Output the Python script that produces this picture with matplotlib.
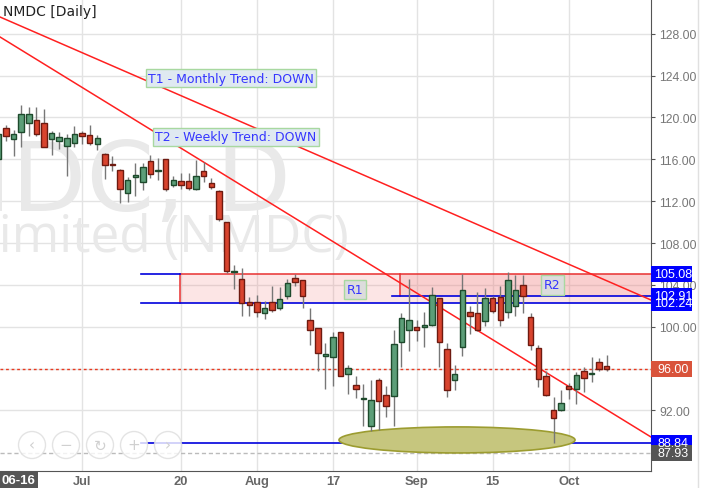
import matplotlib
matplotlib.use("Agg")
import matplotlib.pyplot as plt
from matplotlib.patches import Rectangle, Ellipse
from matplotlib.lines import Line2D
import numpy as np

# ---------------- data ----------------
opens = [116.0, 119.0, 117.9, 118.6, 119.5, 119.8, 119.5, 117.9, 117.8, 117.3,
         117.6, 118.5, 118.3, 117.5, 116.5, 115.55, 115.0, 112.8, 114.35, 113.8,
         115.8, 114.9, 116.0, 113.5, 113.9, 113.9, 113.2, 114.85, 113.7, 113.0,
         110.0, 105.2, 104.6, 102.4, 102.4, 101.3, 102.4, 101.75, 102.95, 104.7,
         104.45, 100.6, 99.85, 97.2, 97.1, 99.45, 95.45, 94.45, 93.05, 90.5,
         94.9, 93.5, 93.35, 98.5, 99.65, 99.95, 99.95, 100.2, 102.7, 97.85,
         94.9, 98.05, 101.4, 101.3, 100.5, 102.7, 102.8, 101.4, 101.95, 104.0,
         100.9, 97.95, 95.3, 92.0, 92.0, 94.3, 94.0, 95.75, 95.45, 96.6, 96.25]
highs = [118.8, 119.3, 118.8, 121.2, 121.0, 121.0, 120.8, 118.7, 118.6, 118.4,
         119.2, 118.7, 119.3, 118.3, 116.6, 116.3, 115.1, 114.3, 115.65, 115.65,
         116.4, 116.1, 116.05, 114.4, 114.7, 114.7, 115.9, 115.7, 114.2, 113.1,
         110.05, 105.9, 105.6, 102.8, 103.0, 102.45, 103.9, 103.8, 104.55, 105.05,
         104.5, 101.8, 99.9, 98.45, 99.45, 99.5, 96.35, 95.3, 94.5, 94.9,
         95.05, 94.3, 99.7, 101.3, 104.6, 100.65, 101.45, 103.75, 102.75, 98.45,
         96.35, 105.05, 102.0, 103.3, 103.65, 102.95, 103.85, 105.2, 104.95, 104.95,
         101.3, 98.25, 95.8, 93.25, 93.9, 94.6, 95.65, 96.1, 97.1, 97.0, 97.25]
lows = [115.5, 117.8, 116.3, 117.2, 118.2, 118.2, 117.15, 116.4, 117.0, 114.4,
        117.2, 117.5, 117.4, 116.9, 114.1, 114.9, 111.8, 111.95, 112.5, 113.1,
        114.2, 114.0, 113.0, 113.4, 113.2, 113.1, 113.1, 113.8, 113.2, 110.1,
        105.1, 103.6, 101.05, 101.05, 100.9, 100.7, 101.4, 101.6, 102.6, 103.85,
        101.8, 98.2, 95.8, 94.05, 94.35, 95.25, 93.55, 93.15, 90.55, 90.05,
        90.15, 91.35, 90.55, 96.1, 97.7, 98.65, 98.1, 100.1, 96.1, 93.3,
        93.9, 97.15, 99.3, 99.6, 100.1, 101.3, 100.1, 100.85, 101.05, 101.3,
        97.8, 94.25, 93.35, 88.84, 91.9, 93.1, 92.6, 93.8, 94.7, 95.8, 95.8]
closes = [118.4, 118.2, 118.4, 120.3, 120.3, 118.4, 117.2, 118.5, 118.1, 118.0,
          118.4, 118.2, 117.6, 118.0, 115.5, 115.45, 113.2, 114.0, 114.45, 115.3,
          114.6, 115.0, 113.2, 114.0, 113.5, 113.3, 114.4, 114.4, 113.4, 110.3,
          105.35, 105.35, 102.3, 102.05, 101.4, 101.8, 101.6, 102.6, 104.2, 104.3,
          102.95, 99.7, 97.45, 97.4, 99.0, 95.3, 96.05, 94.0, 93.15, 93.0,
          92.9, 92.4, 98.3, 100.85, 100.6, 99.7, 100.2, 103.05, 98.5, 93.95,
          95.45, 103.5, 101.0, 99.7, 102.7, 101.5, 100.6, 104.45, 103.5, 102.95,
          98.25, 95.0, 93.5, 91.25, 92.7, 94.0, 95.4, 95.05, 95.55, 96.0, 96.0]

tick_idx = [11, 24, 34, 44, 55, 65, 75]
tick_labels = ["Jul", "20", "Aug", "17", "Sep", "15", "Oct"]
y_ticks = [92, 96, 100, 104, 108, 112, 116, 120, 124, 128]

# levels
r_top = 105.08
r1_bottom = 102.24
r2_bottom = 102.91
support = 88.84
last_close = 96.00
prev_low = 87.93

# trend lines (candle index, price) anchors
t1_x = [0.21, 85.82]
t1_y = [129.61, 102.55]
t2_x = [0.21, 85.82]
t2_y = [127.7, 89.45]

# ---------------- figure ----------------
W, H = 701, 489
fig = plt.figure(figsize=(W / 100, H / 100), dpi=100)
ax = fig.add_axes([0, 17 / H, 651 / W, 1 - 17 / H])
ax.set_xlim(0.21, 85.82)
ax.set_ylim(86.2, 131.33)

grid_c = "#e3e3e3"
for v in y_ticks:
    ax.axhline(v, color=grid_c, lw=1, zorder=0)
for t in tick_idx:
    ax.axvline(t, color=grid_c, lw=1, zorder=0)

# watermark
ax.text(38.5, 111.2, "NMDC, D", fontsize=70, color="#e9e9e9", ha="right",
        va="baseline", zorder=0.5, clip_on=True, family="DejaVu Sans")
ax.text(46.1, 107.24, "NMDC Limited (NMDC)", fontsize=37, color="#e9e9e9", ha="right",
        va="baseline", zorder=0.5, clip_on=True, family="Open Sans")

# zones
ax.add_patch(Rectangle((23.88, r1_bottom), 100, r_top - r1_bottom,
                       facecolor="#f07070", alpha=0.18, edgecolor="none", zorder=1))
ax.add_patch(Rectangle((52.81, r2_bottom), 100, r_top - r2_bottom,
                       facecolor="#f07070", alpha=0.18, edgecolor="none", zorder=1))
ax.plot([23.88, 23.88], [r1_bottom, r_top], color="#e83030", lw=1.1, zorder=2)
ax.plot([52.81, 52.81], [r2_bottom, r_top], color="#e83030", lw=1.1, zorder=2)
ax.plot([23.88, 90], [r_top, r_top], color="#e83030", lw=1.1, zorder=2)
ax.plot([18.75, 23.88], [r_top, r_top], color="#0000dd", lw=1.2, zorder=2)
ax.plot([18.75, 90], [r1_bottom, r1_bottom], color="#0000dd", lw=1.2, zorder=2)
ax.plot([51.76, 90], [r2_bottom, r2_bottom], color="#0000dd", lw=1.2, zorder=2)
ax.plot([18.75, 90], [support, support], color="#0000dd", lw=1.2, zorder=2)

ax.axhline(last_close, color="#e83a20", lw=1, ls=(0, (2, 2)), zorder=2)
ax.axhline(prev_low, color="#bbbbbb", lw=1, ls=(0, (3, 2)), zorder=2)

# ellipse
ax.add_patch(Ellipse((60.31, 89.17), 31.04, 2.49, facecolor="#c6c67e",
                     edgecolor="#9c9c30", lw=1.2, zorder=2))

# trend lines
ax.plot(t1_x, t1_y, color="#ff2020", lw=1.1, zorder=3)
ax.plot(t2_x, t2_y, color="#ff2020", lw=1.1, zorder=3)

# candles
o = np.array(opens); h = np.array(highs); l = np.array(lows); c = np.array(closes)
x = np.arange(len(o))
ax.vlines(x, l, h, color="#777777", lw=1, zorder=4)
up = c >= o
bottoms = np.minimum(o, c)
heights = np.maximum(np.abs(c - o), 0.12)
ax.bar(x[up], heights[up], bottom=bottoms[up], width=0.72, color="#5c9e78",
       edgecolor="#1e4a2c", lw=1, zorder=5)
ax.bar(x[~up], heights[~up], bottom=bottoms[~up], width=0.72, color="#d8442e",
       edgecolor="#6e1a10", lw=1, zorder=5)

# annotations
ann_font = dict(family="DejaVu Sans", fontsize=9, color="#3535ff")
ax.text(30.59, 123.73, "T1 - Monthly Trend: DOWN", ha="center", va="center", zorder=6,
        bbox=dict(boxstyle="square,pad=0.2", fc="#dfe9f1", ec="#a8d8a0", lw=1), **ann_font)
ax.text(31.25, 118.18, "T2 - Weekly Trend: DOWN", ha="center", va="center", zorder=6,
        bbox=dict(boxstyle="square,pad=0.2", fc="#dfe9f1", ec="#a8d8a0", lw=1), **ann_font)
ax.text(46.9, 103.56, "R1", ha="center", va="center", zorder=6,
        bbox=dict(boxstyle="square,pad=0.25", fc="#dcdcdc", ec="#a8d8a0", lw=1), **ann_font)
ax.text(72.87, 103.99, "R2", ha="center", va="center", zorder=6,
        bbox=dict(boxstyle="square,pad=0.25", fc="#dcdcdc", ec="#a8d8a0", lw=1), **ann_font)

# axes styling
for s in ["left", "top"]:
    ax.spines[s].set_visible(False)
ax.spines["right"].set_color("#555555")
ax.spines["bottom"].set_color("#555555")
ax.yaxis.tick_right()
ax.set_yticks(y_ticks)
ax.set_yticklabels([f"{v:.2f}" for v in y_ticks])
ax.tick_params(axis="y", colors="#555555", labelcolor="#777777", length=3, pad=3,
               labelsize=8.8)
ax.set_xticks(tick_idx)
ax.set_xticklabels(tick_labels)
ax.tick_params(axis="x", length=0, pad=3, labelcolor="#666666", labelsize=9.3)
for lab in ax.get_xticklabels() + ax.get_yticklabels():
    lab.set_family("Liberation Sans")
for lab in ax.get_xticklabels():
    lab.set_fontweight("bold")

# price boxes on the right axis
box_w = 41 / 651          # axes fraction
box_h = 16 / 10.46        # price units
def price_box(val, fc, tc="white"):
    ax.add_patch(Rectangle((1.0, val - box_h / 2), box_w, box_h,
                           transform=ax.get_yaxis_transform(), clip_on=False,
                           facecolor=fc, edgecolor="none", zorder=10))
    ax.text(1.0 + box_w / 2 + 0.002, val, f"{val:.2f}", transform=ax.get_yaxis_transform(),
            ha="center", va="center", fontsize=9, color=tc, family="Liberation Sans",
            zorder=11, clip_on=False)

price_box(r1_bottom, "#0000ff")
price_box(r2_bottom, "#0000ff")
price_box(r_top, "#0000ff")
price_box(last_close, "#d9533b")
price_box(support, "#0000ff")
price_box(prev_low, "#555555")

# title
fig.text(3 / W, 1 - 12 / H, "NMDC [Daily]", fontsize=10, color="#222222",
         family="DejaVu Sans", ha="left", va="center")

# crosshair date label
fig.text(1 / W, 8 / H, "06-16", fontsize=9.5, color="white", family="Liberation Sans",
         ha="left", va="center", fontweight="bold",
         bbox=dict(boxstyle="square,pad=0.2", fc="#555555", ec="none"))

# navigation buttons
for k, sym in enumerate(["\u2039", "\u2212", "\u21bb", "+", "\u203a"]):
    cx = (32 + 34 * k) / W
    cy = 1 - 446 / H
    fig.add_artist(Ellipse((cx, cy), 27 / W, 27 / H, transform=fig.transFigure,
                           fc="#ffffff", ec="#dddddd", lw=1, alpha=0.8, zorder=20))
    fig.text(cx, cy, sym, fontsize=11, color="#d0d0d0", ha="center", va="center",
             zorder=21)

fig.add_artist(Line2D([698 / W, 698 / W], [0, 1], transform=fig.transFigure,
                      color="#e0e0e0", lw=1))

fig.savefig("out.png", dpi=100)
